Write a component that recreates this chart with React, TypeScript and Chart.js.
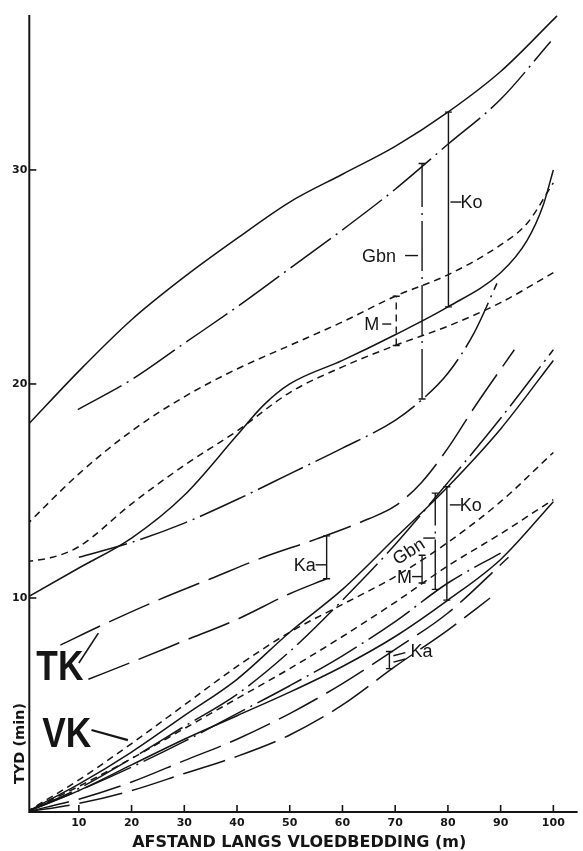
import React, { useEffect, useRef } from "react";
import { Chart, registerables } from "chart.js";

Chart.register(...registerables);

// ---------- axes ----------
const X_MIN = 0.6;
const X_MAX = 104.6;
const Y_MIN = 0;
const Y_MAX = 37.24;
const X_TICKS = [10, 20, 30, 40, 50, 60, 70, 80, 90, 100];
const Y_TICKS = [10, 20, 30];
const X_TITLE = "AFSTAND LANGS VLOEDBEDDING (m)";
const Y_TITLE = "TYD (min)";

// ---------- TK curves ----------
const TK_KO_HI_X = [0, 10, 20, 30, 40, 50, 60, 70, 80, 90, 100.7];
const TK_KO_HI_Y = [18.0, 20.6, 23.0, 25.0, 26.8, 28.5, 29.8, 31.1, 32.7, 34.6, 37.2];
const TK_GBN_HI_X = [9.8, 20, 30, 40, 50, 60, 70, 80, 90, 99.5];
const TK_GBN_HI_Y = [18.8, 20.2, 21.9, 23.6, 25.4, 27.2, 29.1, 31.2, 33.3, 36.0];
const TK_M_HI_X = [0, 10, 20, 30, 40, 50, 60, 70, 80, 90, 95, 100];
const TK_M_HI_Y = [13.4, 15.8, 17.8, 19.4, 20.7, 21.8, 22.9, 24.1, 25.1, 26.5, 27.5, 29.4];
const TK_KO_LO_X = [0, 10, 20, 30, 40, 45, 50, 60, 70, 80, 90, 95, 98, 100];
const TK_KO_LO_Y = [10.0, 11.4, 12.8, 14.8, 17.6, 19.0, 20.0, 21.1, 22.3, 23.6, 25.2, 26.7, 28.3, 30.0];
const TK_M_LO_X = [0, 5, 10, 20, 30, 40, 50, 60, 70, 80, 90, 100];
const TK_M_LO_Y = [11.7, 11.9, 12.4, 14.4, 16.2, 17.8, 19.6, 20.8, 21.8, 22.7, 23.8, 25.2];
const TK_GBN_LO_X = [10, 20, 30, 40, 50, 60, 70, 75, 80, 85, 89.3];
const TK_GBN_LO_Y = [11.9, 12.6, 13.5, 14.6, 15.8, 17.0, 18.3, 19.25, 20.5, 22.4, 24.7];
const TK_KA_HI_X = [6.5, 15, 25, 35, 45, 55, 65, 70, 75, 80, 85, 92.6];
const TK_KA_HI_Y = [7.8, 8.8, 9.9, 10.9, 11.9, 12.75, 13.7, 14.3, 15.4, 17.0, 18.9, 21.6];
const TK_KA_LO_X = [11.8, 20, 30, 40, 50, 57];
const TK_KA_LO_Y = [6.2, 7.0, 8.0, 9.0, 10.2, 10.9];

// ---------- VK curves ----------
const VK_X = [0, 10, 20, 30, 40, 50, 60, 70, 80, 90, 100];
const VK_KO_HI_Y = [0, 1.3, 2.8, 4.5, 6.2, 8.4, 10.4, 12.8, 15.2, 17.9, 21.1];
const VK_GBN_HI_Y = [0, 1.1, 2.5, 4.0, 5.5, 7.5, 9.9, 12.5, 15.4, 18.4, 21.6];
const VK_M_HI_Y = [0, 1.5, 3.2, 5.0, 6.8, 8.4, 9.7, 11.0, 12.6, 14.5, 16.8];
const VK_M_LO_Y = [0, 1.2, 2.5, 3.9, 5.3, 6.7, 8.2, 9.8, 11.5, 13.0, 14.6];
const VK_KO_LO_Y = [0, 1.0, 2.2, 3.4, 4.5, 5.6, 6.8, 8.2, 9.9, 11.8, 14.5];
const VK_GBN_LO_X = [0, 10, 20, 30, 40, 50, 60, 70, 80, 90];
const VK_GBN_LO_Y = [0, 1.0, 2.1, 3.3, 4.6, 5.9, 7.3, 8.9, 10.7, 12.1];
const VK_KA_HI_X = [0, 10, 20, 30, 40, 50, 60, 70, 80, 91.5];
const VK_KA_HI_Y = [0, 0.6, 1.4, 2.4, 3.4, 4.6, 6.0, 7.6, 9.3, 11.9];
const VK_KA_LO_X = [0, 10, 20, 30, 40, 50, 60, 70, 80, 88];
const VK_KA_LO_Y = [0, 0.4, 1.0, 1.8, 2.6, 3.6, 5.0, 6.8, 8.5, 10.0];

// ---------- spread bars (Ko, Gbn, M, Ka) ----------
const BAR_NAMES = ["Ko", "Gbn", "M", "Ka"];
const TK_BAR_X = [80.1, 75.1, 70.2, 57.0];
const TK_BAR_LOW = [23.6, 19.3, 21.8, 10.9];
const TK_BAR_HIGH = [32.7, 30.3, 24.1, 12.9];
const VK_BAR_X = [79.8, 77.6, 75.1, 68.9];
const VK_BAR_LOW = [9.9, 10.4, 10.7, 6.7];
const VK_BAR_HIGH = [15.2, 14.9, 12.0, 7.5];

// ---------- styles ----------
const INK = "#151515";
const SOLID: number[] = [];
const DASH_DOT = [50, 6, 2, 6];
const SHORT_DASH = [7, 5];
const LONG_DASH = [44, 10];
const SANS = '"Liberation Sans", Arial, sans-serif';
const DEJAVU = '"DejaVu Sans", sans-serif';

const pts = (xs: number[], ys: number[]) => xs.map((x, i) => ({ x, y: ys[i] }));

const curve = (label: string, xs: number[], ys: number[], dash: number[]) => ({
  label,
  data: pts(xs, ys),
  borderColor: INK,
  borderWidth: 1.5,
  borderDash: dash,
  pointRadius: 0,
  cubicInterpolationMode: "monotone",
  tension: 0.4,
  fill: false,
});

const bar = (label: string, x: number, lo: number, hi: number, dash: number[]) => ({
  label,
  data: [
    { x, y: lo },
    { x, y: hi },
  ],
  borderColor: INK,
  borderWidth: 1.4,
  borderDash: dash,
  tension: 0,
  pointStyle: "line",
  pointRadius: 3.5,
  pointBorderWidth: 1.4,
  pointBorderColor: INK,
  pointBackgroundColor: INK,
  fill: false,
});

const TK_BAR_DASH = [SOLID, DASH_DOT, SHORT_DASH, SOLID];
const VK_BAR_DASH = [SOLID, DASH_DOT, SOLID, SOLID];

function seg(ctx: CanvasRenderingContext2D, x1: number, y1: number, x2: number, y2: number) {
  ctx.beginPath();
  ctx.moveTo(x1, y1);
  ctx.lineTo(x2, y2);
  ctx.stroke();
}

const decor = {
  id: "decor",
  afterDatasetsDraw(chart: any) {
    const ctx: CanvasRenderingContext2D = chart.ctx;
    const a = chart.chartArea;
    const sx = chart.scales.x;
    const sy = chart.scales.y;
    const px = (v: number) => sx.getPixelForValue(v);
    const py = (v: number) => sy.getPixelForValue(v);
    ctx.save();
    ctx.strokeStyle = INK;
    ctx.fillStyle = INK;
    ctx.setLineDash([]);

    // axes
    ctx.lineWidth = 2;
    ctx.beginPath();
    ctx.moveTo(a.left, a.top);
    ctx.lineTo(a.left, a.bottom);
    ctx.lineTo(a.right, a.bottom);
    ctx.stroke();

    // ticks
    ctx.lineWidth = 1.6;
    X_TICKS.forEach((v) => seg(ctx, px(v), a.bottom, px(v), a.bottom - 7));
    Y_TICKS.forEach((v) => seg(ctx, a.left, py(v), a.left + 7, py(v)));

    // tick labels
    ctx.font = `bold 11px ${DEJAVU}`;
    ctx.textBaseline = "middle";
    ctx.textAlign = "center";
    X_TICKS.forEach((v) => ctx.fillText(String(v), px(v), a.bottom + 11));
    ctx.textAlign = "right";
    Y_TICKS.forEach((v) => ctx.fillText(String(v), a.left - 2, py(v)));

    // axis titles
    ctx.font = `bold 16px ${DEJAVU}`;
    ctx.textAlign = "center";
    ctx.fillText(X_TITLE, px(51.8), a.bottom + 31);
    ctx.save();
    ctx.translate(a.left - 9, py(3.2));
    ctx.rotate(-Math.PI / 2);
    ctx.font = `bold 14.5px ${DEJAVU}`;
    ctx.fillText(Y_TITLE, 0, 0);
    ctx.restore();

    // bar labels
    ctx.font = `18px ${SANS}`;
    ctx.textBaseline = "alphabetic";
    ctx.lineWidth = 1.4;
    const cap = 6.4;
    const label = (t: string, x: number, y: number, align: CanvasTextAlign) => {
      ctx.textAlign = align;
      ctx.fillText(t, x, y + cap);
    };

    // TK labels
    {
      const bx = TK_BAR_X.map(px);
      let y = py(28.5);
      seg(ctx, bx[0] + 2, y, bx[0] + 13, y);
      label(BAR_NAMES[0], bx[0] + 12, y, "left");
      y = py(26.0);
      seg(ctx, bx[1] - 17, y, bx[1] - 4, y);
      label(BAR_NAMES[1], bx[1] - 26, y, "right");
      y = py(22.8);
      seg(ctx, bx[2] - 14, y, bx[2] - 5, y);
      label(BAR_NAMES[2], bx[2] - 17, y, "right");
      y = py(11.55);
      seg(ctx, bx[3] - 11, y, bx[3], y);
      label(BAR_NAMES[3], bx[3] - 11, y, "right");
    }
    // VK labels
    {
      const bx = VK_BAR_X.map(px);
      let y = py(14.35);
      seg(ctx, bx[0] + 3, y, bx[0] + 14, y);
      label(BAR_NAMES[0], bx[0] + 13, y, "left");
      y = py(12.8);
      seg(ctx, bx[1] - 12, y, bx[1], y);
      ctx.save();
      ctx.translate(px(72.5), py(12.2));
      ctx.rotate((-33 * Math.PI) / 180);
      ctx.textAlign = "center";
      ctx.fillText(BAR_NAMES[1], 0, cap);
      ctx.restore();
      y = py(11.0);
      seg(ctx, bx[2] - 10, y, bx[2], y);
      label(BAR_NAMES[2], bx[2] - 10, y, "right");
      seg(ctx, bx[3] + 4, py(7.3), bx[3] + 16, py(7.45));
      seg(ctx, bx[3] + 4, py(7.0), bx[3] + 16, py(7.15));
      label(BAR_NAMES[3], bx[3] + 21, py(7.55), "left");
    }

    // group labels TK / VK with pointers
    ctx.lineWidth = 1.6;
    seg(ctx, px(10.0), py(6.96), px(13.7), py(8.36));
    ctx.lineWidth = 2.2;
    seg(ctx, px(12.4), py(3.83), px(19.3), py(3.36));
    ctx.font = `bold 42px ${SANS}`;
    ctx.textAlign = "center";
    ctx.textBaseline = "alphabetic";
    const big = (t: string, x: number, y: number) => {
      ctx.save();
      ctx.translate(px(x), py(y));
      ctx.scale(0.84, 1);
      ctx.fillText(t, 0, 0);
      ctx.restore();
    };
    big("TK", 6.4, 6.17);
    big("VK", 7.7, 3.04);

    ctx.restore();
  },
};

export default function App() {
  const ref = useRef<HTMLCanvasElement | null>(null);

  useEffect(() => {
    if (!ref.current) return;
    const datasets: any[] = [
      curve("TK Ko 1", TK_KO_HI_X, TK_KO_HI_Y, SOLID),
      curve("TK Gbn 1", TK_GBN_HI_X, TK_GBN_HI_Y, DASH_DOT),
      curve("TK M 1", TK_M_HI_X, TK_M_HI_Y, SHORT_DASH),
      curve("TK Ko 2", TK_KO_LO_X, TK_KO_LO_Y, SOLID),
      curve("TK M 2", TK_M_LO_X, TK_M_LO_Y, SHORT_DASH),
      curve("TK Gbn 2", TK_GBN_LO_X, TK_GBN_LO_Y, DASH_DOT),
      curve("TK Ka 1", TK_KA_HI_X, TK_KA_HI_Y, LONG_DASH),
      curve("TK Ka 2", TK_KA_LO_X, TK_KA_LO_Y, LONG_DASH),
      curve("VK Ko 1", VK_X, VK_KO_HI_Y, SOLID),
      curve("VK Gbn 1", VK_X, VK_GBN_HI_Y, DASH_DOT),
      curve("VK M 1", VK_X, VK_M_HI_Y, SHORT_DASH),
      curve("VK M 2", VK_X, VK_M_LO_Y, SHORT_DASH),
      curve("VK Ko 2", VK_X, VK_KO_LO_Y, SOLID),
      curve("VK Gbn 2", VK_GBN_LO_X, VK_GBN_LO_Y, DASH_DOT),
      curve("VK Ka 1", VK_KA_HI_X, VK_KA_HI_Y, LONG_DASH),
      curve("VK Ka 2", VK_KA_LO_X, VK_KA_LO_Y, LONG_DASH),
    ];
    BAR_NAMES.forEach((n, i) => {
      datasets.push(bar("TK " + n, TK_BAR_X[i], TK_BAR_LOW[i], TK_BAR_HIGH[i], TK_BAR_DASH[i]));
      datasets.push(bar("VK " + n, VK_BAR_X[i], VK_BAR_LOW[i], VK_BAR_HIGH[i], VK_BAR_DASH[i]));
    });

    const chart = new Chart(ref.current, {
      type: "line",
      data: { datasets },
      options: {
        responsive: false,
        animation: false,
        devicePixelRatio: 1,
        parsing: true,
        layout: { padding: { left: 29.3, right: 0, top: 15, bottom: 39 } },
        scales: {
          x: { type: "linear", min: X_MIN, max: X_MAX, display: false },
          y: { type: "linear", min: Y_MIN, max: Y_MAX, display: false },
        },
        plugins: {
          legend: { display: false },
          tooltip: { enabled: false },
        },
      } as any,
      plugins: [decor as any],
    });
    return () => chart.destroy();
  }, []);

  return (
    <div style={{ position: "absolute", left: 0, top: 0, width: 583, height: 851, background: "#fff" }}>
      <canvas ref={ref} width={583} height={851} style={{ display: "block", width: 583, height: 851 }} />
    </div>
  );
}
